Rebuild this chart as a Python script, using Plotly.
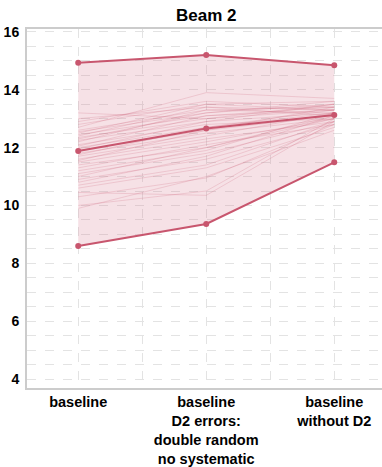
import plotly.graph_objects as go

categories = ["baseline", "baseline<br>D2 errors:<br>double random<br>no systematic", "baseline<br>without D2"]
x_pos = [0, 1, 2]

max_vals = [14.93, 15.2, 14.85]
median_vals = [11.88, 12.66, 13.13]
min_vals = [8.6, 9.36, 11.49]

run_baseline = [13.2, 13.0, 12.9, 12.8, 12.7, 12.6, 12.55, 12.5, 12.45, 12.4, 12.35, 12.3, 12.25, 12.2,
                12.1, 12.05, 12.0, 11.95, 11.9, 11.8, 11.75, 11.7, 11.6, 11.55, 11.5, 11.4, 11.3, 11.2,
                11.1, 11.0, 10.9, 10.8, 10.7, 10.6, 10.45, 10.3, 10.0, 9.9]
run_d2err = [13.0, 13.4, 13.6, 13.5, 13.9, 13.3, 13.2, 13.5, 13.1, 13.4, 13.0, 13.2, 12.9, 13.3,
             12.8, 13.1, 12.7, 12.9, 12.6, 12.5, 12.7, 12.4, 12.3, 12.6, 12.2, 12.0, 12.1, 11.9,
             11.8, 12.0, 11.6, 11.7, 11.4, 11.3, 10.35, 10.95, 10.5, 11.0]
run_nod2 = [13.5, 13.3, 13.4, 13.6, 13.7, 13.2, 13.5, 13.3, 13.4, 13.1, 13.3, 13.6, 13.2, 13.4,
            13.0, 13.3, 13.2, 13.5, 13.1, 13.0, 13.3, 13.2, 12.9, 13.4, 13.0, 13.1, 12.8, 13.2,
            12.9, 13.0, 12.8, 13.1, 12.9, 12.7, 12.9, 12.8, 13.0, 12.6]

line_color = "rgb(200,86,110)"
fig = go.Figure()

# band
fig.add_trace(go.Scatter(x=x_pos, y=min_vals, mode="lines", line=dict(width=0), showlegend=False, hoverinfo="skip"))
fig.add_trace(go.Scatter(x=x_pos, y=max_vals, mode="lines", line=dict(width=0), fill="tonexty",
                         fillcolor="rgba(214,120,140,0.22)", showlegend=False, hoverinfo="skip"))

for a, b, c in zip(run_baseline, run_d2err, run_nod2):
    fig.add_trace(go.Scatter(x=x_pos, y=[a, b, c], mode="lines",
                             line=dict(color="rgba(200,86,110,0.2)", width=1), showlegend=False))

for ys in (max_vals, median_vals, min_vals):
    fig.add_trace(go.Scatter(x=x_pos, y=ys, mode="lines+markers",
                             line=dict(color=line_color, width=2),
                             marker=dict(color=line_color, size=6), showlegend=False))

grid = "#e3e3e3"
fig.update_layout(
    width=382, height=467,
    margin=dict(l=27, r=0, t=29, b=79),
    plot_bgcolor="white", paper_bgcolor="white",
    title=dict(text="Beam 2", x=0.54, xanchor="center", y=0.967, yanchor="middle",
               font=dict(family="Liberation Sans, Arial", size=17, color="black", weight="bold")),
    font=dict(family="Liberation Sans, Arial", color="black"),
)
fig.update_xaxes(
    range=[-0.4, 2.373], tickmode="array", tickvals=x_pos,
    ticktext=categories,
    tickfont=dict(size=14.5, color="black", weight="bold"),
    showgrid=True, gridcolor=grid, griddash="dash", gridwidth=1,
    minor=dict(dtick=0.5, tick0=-0.5, showgrid=True, gridcolor=grid, griddash="dash"),
    showline=True, linecolor="#cccccc", linewidth=2, mirror=True,
    zeroline=False, ticks="",
)
fig.update_yaxes(
    range=[3.69, 16.1], tickmode="linear", tick0=4, dtick=2,
    tickfont=dict(size=14, color="black", weight="bold"),
    showgrid=True, gridcolor=grid, griddash="dash", gridwidth=1,
    minor=dict(dtick=0.5, showgrid=True, gridcolor=grid, griddash="dash"),
    showline=True, linecolor="#cccccc", linewidth=2,
    zeroline=False, ticks="", ticklabelstandoff=3,
)

fig.write_html("out.html")
